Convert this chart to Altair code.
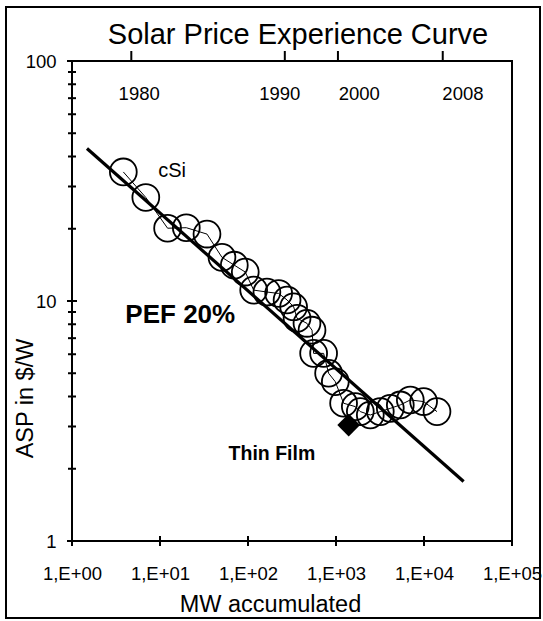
import altair as alt
import pandas as pd

FONT = "Liberation Sans"

# cSi price experience series: accumulated MW vs ASP ($/W)
csi_mw = [3.83, 6.90, 12.2, 19.9, 34.2, 50.6, 69.9, 93.1, 116, 164, 223, 278, 330, 361,
          468, 534, 557, 723, 824, 982, 1220, 1657, 1889, 2453, 3187, 4140, 5379, 6988,
          9897, 14050]
csi_price = [34.5, 27.0, 20.1, 20.2, 19.0, 15.2, 14.1, 13.2, 11.1, 10.9, 10.75, 10.1, 9.46,
             8.47, 8.07, 7.56, 6.05, 6.05, 5.00, 4.61, 3.75, 3.63, 3.46, 3.35, 3.46, 3.57,
             3.69, 3.87, 3.81, 3.46]

# PEF 20% experience line
pef_mw = [1.48, 28200]
pef_price = [43.2, 1.77]

# Thin film point
thin_mw = [1394]
thin_price = [3.04]

# secondary (year) axis on top
year_labels = ["1980", "1990", "2000", "2008"]
year_tick_mw = [4.72, 262, 1052, 16330]
year_label_mw = [5.8, 230, 1840, 27700]
year_label_price = [73, 73, 73, 73]

# axis ticks
x_tick_values = [1, 10, 100, 1000, 10000, 100000]
y_major_values = [1, 10, 100]
y_minor_values = [2, 3, 4, 5, 6, 7, 8, 9, 20, 30, 40, 50, 60, 70, 80, 90]

# annotations
annot_text = ["cSi", "PEF 20%", "Thin Film"]
annot_mw = [13.7, 17.0, 187]
annot_price = [34.8, 8.74, 2.30]

title_text = "Solar Price Experience Curve"

xs = alt.Scale(type="log", domain=[1, 100000], nice=False)
ys = alt.Scale(type="log", domain=[1, 100], nice=False)

x_axis = alt.Axis(
    values=x_tick_values,
    labelExpr="'1,E+0' + round(log(datum.value) / LN10)",
    ticks=False, tickSize=0, domain=False, grid=False,
    labelFont=FONT, labelFontSize=18.5, labelColor="black",
    labelPadding=32, labelBaseline="middle", labelFlush=False, labelOverlap=False,
    titleFont=FONT, titleFontSize=23.5, titleFontWeight="normal", titleColor="black",
    titleX=198, titleY=63, titleBaseline="middle", titleAlign="center",
)
y_axis = alt.Axis(
    values=y_major_values, format="d",
    ticks=False, tickSize=0, domain=False, grid=False,
    labelFont=FONT, labelFontSize=18.5, labelColor="black",
    labelPadding=16, labelFlush=False, labelOverlap=False,
    titleFont=FONT, titleFontSize=23.5, titleFontWeight="normal", titleColor="black",
    titleX=-47, titleY=337, titleAngle=270, titleBaseline="middle", titleAlign="center",
)


def X():
    return alt.X("mw:Q", scale=xs, axis=x_axis, title="MW accumulated")


def Y():
    return alt.Y("price:Q", scale=ys, axis=y_axis, title="ASP in $/W")


csi_df = pd.DataFrame({"mw": csi_mw, "price": csi_price, "order": list(range(len(csi_mw)))})
pef_df = pd.DataFrame({"mw": pef_mw, "price": pef_price})
thin_df = pd.DataFrame({"mw": thin_mw, "price": thin_price})

csi_line = alt.Chart(csi_df).mark_line(color="black", strokeWidth=1).encode(
    x=X(), y=Y(), order="order:Q")
csi_pts = alt.Chart(csi_df).mark_point(
    shape="circle", size=720, filled=False, stroke="black", strokeWidth=1.8, opacity=1
).encode(x=X(), y=Y())
pef_line = alt.Chart(pef_df).mark_line(color="black", strokeWidth=3.2).encode(x=X(), y=Y())
thin_pt = alt.Chart(thin_df).mark_point(
    shape="diamond", size=520, filled=True, color="black", opacity=1
).encode(x=X(), y=Y())

ymaj_df = pd.DataFrame({"mw": [1] * len(y_major_values), "price": y_major_values})
ymin_df = pd.DataFrame({"mw": [1] * len(y_minor_values), "price": y_minor_values})
xt_df = pd.DataFrame({"mw": x_tick_values, "price": [1] * len(x_tick_values)})
yr_tick_df = pd.DataFrame({"mw": year_tick_mw, "price": [100] * len(year_tick_mw)})

ymaj_ticks = alt.Chart(ymaj_df).mark_tick(orient="horizontal", size=10, thickness=2, color="black", opacity=1).encode(x=X(), y=Y())
ymin_ticks = alt.Chart(ymin_df).mark_tick(orient="horizontal", size=8, thickness=2, color="black", opacity=1).encode(x=X(), y=Y())
x_ticks = alt.Chart(xt_df).mark_tick(orient="vertical", size=10, thickness=2, color="black", opacity=1).encode(x=X(), y=Y())
yr_ticks = alt.Chart(yr_tick_df).mark_tick(orient="vertical", size=10, thickness=2, color="black", opacity=1, yOffset=-5).encode(x=X(), y=Y())

yr_lab_df = pd.DataFrame({"mw": year_label_mw, "price": year_label_price, "t": year_labels})
yr_labels = alt.Chart(yr_lab_df).mark_text(
    font=FONT, fontSize=18.5, color="black", align="center", baseline="middle"
).encode(x=X(), y=Y(), text="t:N")

ann_df = pd.DataFrame({"mw": annot_mw, "price": annot_price, "t": annot_text})
ann_csi = alt.Chart(ann_df.iloc[[0]]).mark_text(
    font=FONT, fontSize=20, color="black", align="center", baseline="middle"
).encode(x=X(), y=Y(), text="t:N")
ann_pef = alt.Chart(ann_df.iloc[[1]]).mark_text(
    font=FONT, fontSize=26, fontWeight="bold", color="black", align="center", baseline="middle"
).encode(x=X(), y=Y(), text="t:N")
ann_thin = alt.Chart(ann_df.iloc[[2]]).mark_text(
    font=FONT, fontSize=19.5, fontWeight="bold", color="black", align="center", baseline="middle"
).encode(x=X(), y=Y(), text="t:N")

title_df = pd.DataFrame({"t": [title_text]})
title = alt.Chart(title_df).mark_text(
    font=FONT, fontSize=29, color="black", align="center", baseline="middle"
).encode(x=alt.value(226), y=alt.value(-26), text="t:N")

border = alt.Chart(pd.DataFrame({"k": [0]})).mark_rect(
    fillOpacity=0, stroke="black", strokeWidth=2
).encode(x=alt.value(-66), x2=alt.value(468), y=alt.value(-54), y2=alt.value(557))

chart = alt.layer(
    border, csi_line, csi_pts, pef_line, thin_pt,
    ymaj_ticks, ymin_ticks, x_ticks, yr_ticks,
    yr_labels, ann_csi, ann_pef, ann_thin, title,
).properties(
    width=440, height=480,
    autosize=alt.AutoSizeParams(type="none"),
    padding={"left": 72, "top": 61, "right": 31, "bottom": 80},
    background="white",
).configure_view(stroke="black", strokeWidth=2)

chart.save("out.html", embed_options={"renderer": "svg", "actions": False})
